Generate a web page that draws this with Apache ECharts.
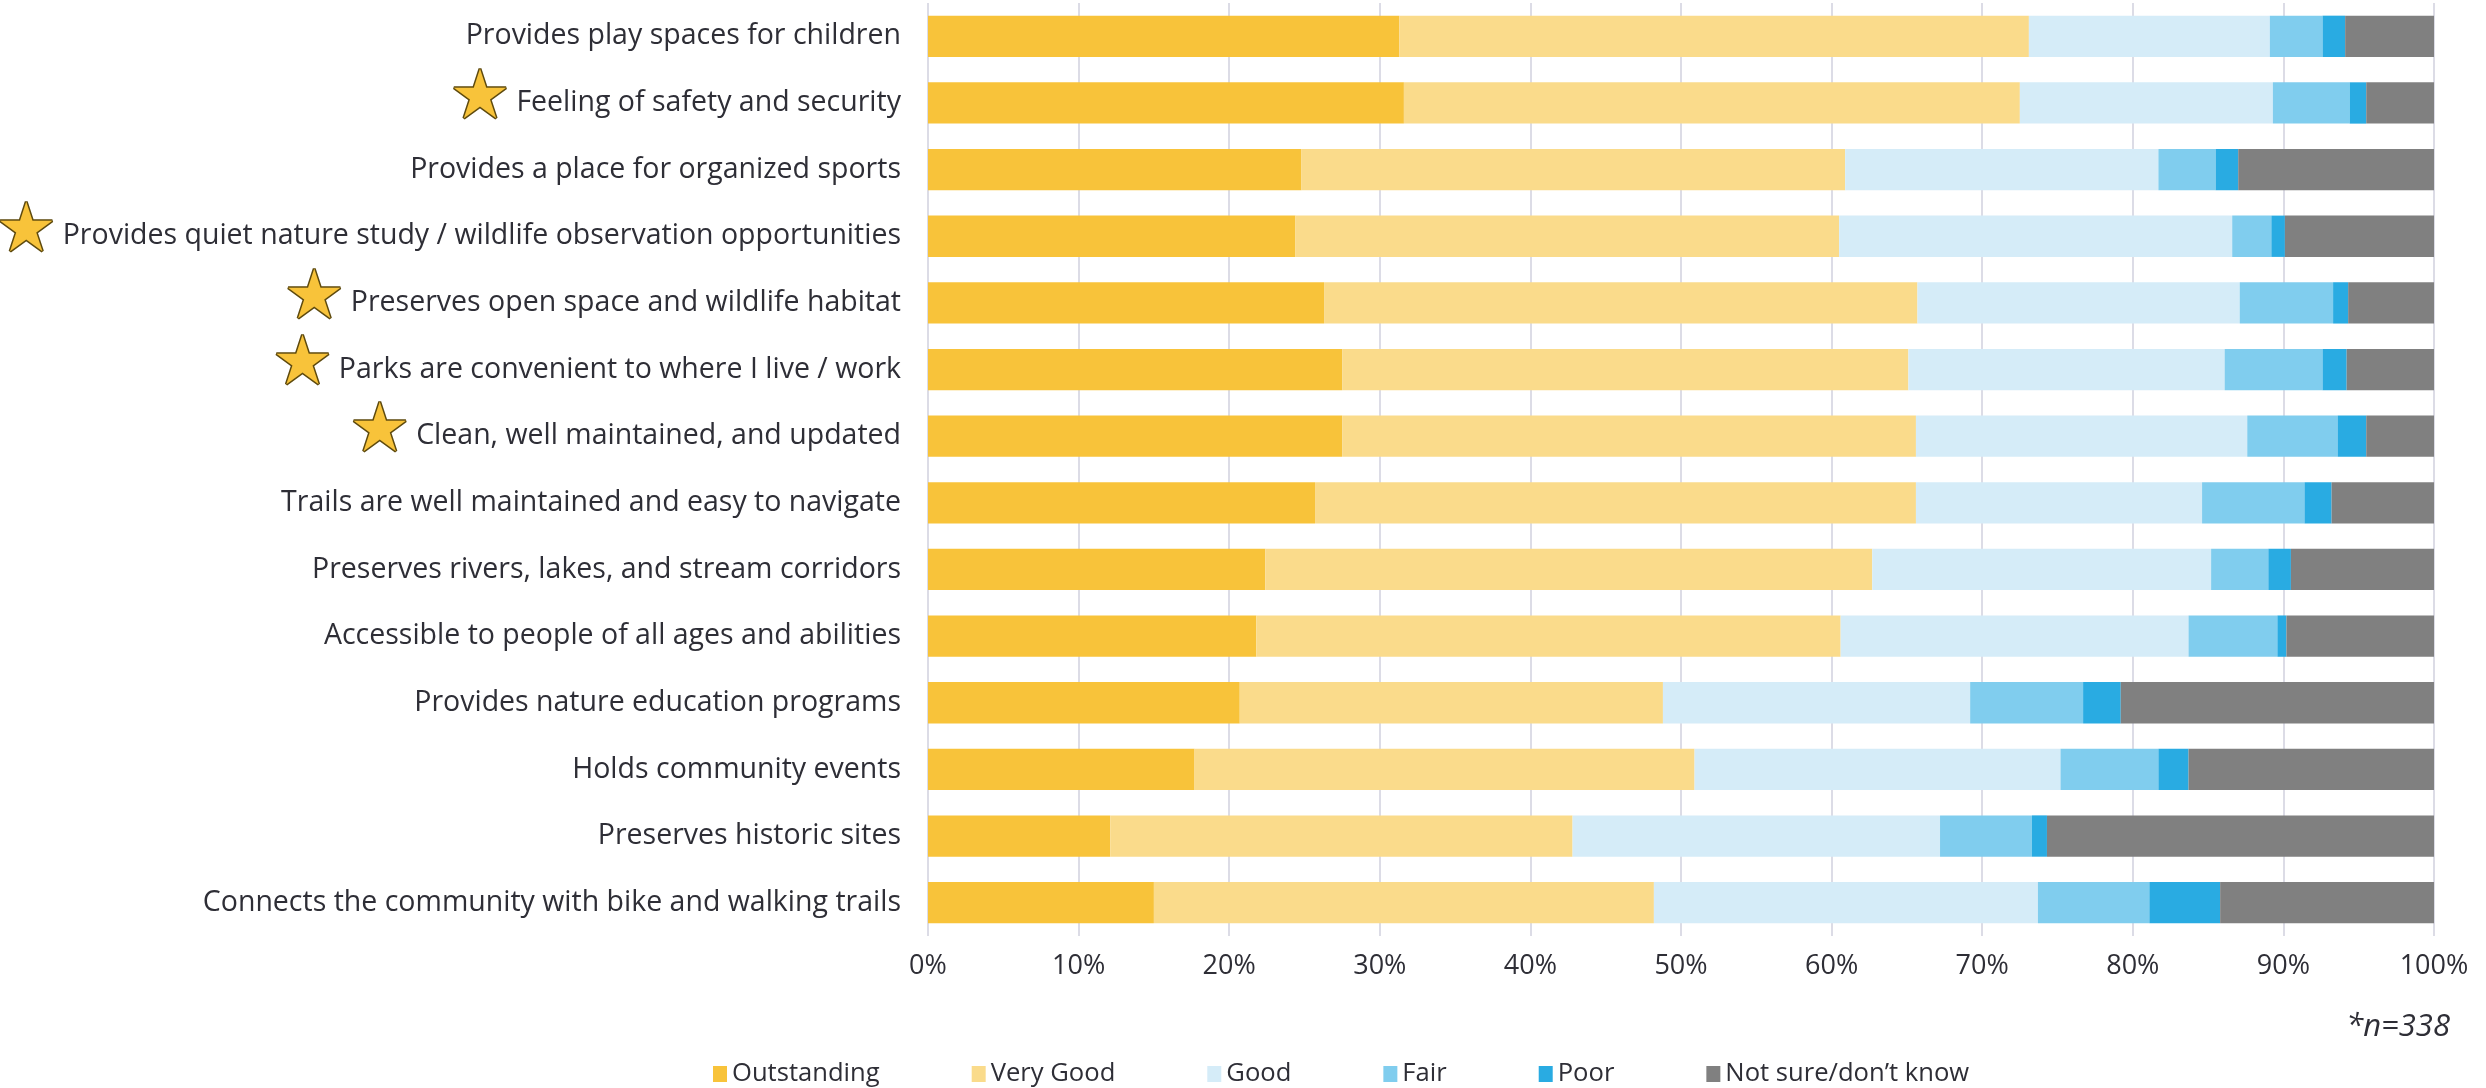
<!DOCTYPE html>
<html>
<head>
<meta charset="utf-8">
<title>Park qualities rating</title>
<script src="https://cdn.jsdelivr.net/npm/echarts@6/dist/echarts.min.js"></script>
<style>
  html, body { margin: 0; padding: 0; background: #ffffff; }
  #chart { width: 2486px; height: 1088px; }
</style>
</head>
<body>
<div id="chart"></div>
<script>
// Park attributes, top to bottom
const categories = [
  'Provides play spaces for children',
  'Feeling of safety and security',
  'Provides a place for organized sports',
  'Provides quiet nature study / wildlife observation opportunities',
  'Preserves open space and wildlife habitat',
  'Parks are convenient to where I live / work',
  'Clean, well maintained, and updated',
  'Trails are well maintained and easy to navigate',
  'Preserves rivers, lakes, and stream corridors',
  'Accessible to people of all ages and abilities',
  'Provides nature education programs',
  'Holds community events',
  'Preserves historic sites',
  'Connects the community with bike and walking trails'
];

// Attributes marked with a star
const starred = [false, true, false, true, true, true, true, false, false, false, false, false, false, false];

// Share of responses (%)
const outstanding = [31.3, 31.6, 24.8, 24.4, 26.3, 27.5, 27.5, 25.7, 22.4, 21.8, 20.7, 17.7, 12.1, 15.0];
const veryGood    = [41.8, 40.9, 36.1, 36.1, 39.4, 37.6, 38.1, 39.9, 40.3, 38.8, 28.1, 33.2, 30.7, 33.2];
const good        = [16.0, 16.8, 20.8, 26.1, 21.4, 21.0, 22.0, 19.0, 22.5, 23.1, 20.4, 24.3, 24.4, 25.5];
const fair        = [3.5, 5.1, 3.8, 2.6, 6.2, 6.5, 6.0, 6.8, 3.8, 5.9, 7.5, 6.5, 6.1, 7.4];
const poor        = [1.5, 1.1, 1.5, 0.9, 1.0, 1.6, 1.9, 1.8, 1.5, 0.6, 2.5, 2.0, 1.0, 4.7];
const notSure     = [5.9, 4.5, 13.0, 9.9, 5.7, 5.8, 4.5, 6.8, 9.5, 9.8, 20.8, 16.3, 25.7, 14.2];

const seriesNames = ['Outstanding', 'Very Good', 'Good', 'Fair', 'Poor', 'Not sure/don\u2019t know'];
const seriesData = [outstanding, veryGood, good, fair, poor, notSure];
const seriesColors = ['#F8C33A', '#FADB8B', '#D5ECF8', '#80CDEE', '#29ABE2', '#808080'];
// Text box width of each legend entry
const legendTextWidths = [152, 123, 62, 43, 55, 245];

const FONT = 'Open Sans';
const TEXT = '#2E2E36';
const GRID = '#DCDCE6';

const chart = echarts.init(document.getElementById('chart'), null, { renderer: 'canvas' });

chart.setOption({
  animation: false,
  backgroundColor: '#ffffff',
  title: {
    text: '*n=338',
    right: 36,
    top: 1012,
    padding: 0,
    textStyle: { fontFamily: FONT, fontStyle: 'italic', fontWeight: 'normal', fontSize: 31, color: TEXT }
  },
  legend: {
    data: seriesNames.map(function (name, i) {
      return { name: name, textStyle: { width: legendTextWidths[i], overflow: 'none' } };
    }),
    left: 713,
    top: 1061,
    padding: 0,
    itemWidth: 14,
    itemHeight: 16,
    itemGap: 92,
    icon: 'rect',
    textStyle: { fontFamily: FONT, fontSize: 25.6, color: TEXT }
  },
  grid: { left: 928, right: 52, top: 3, bottom: 152, containLabel: false, outerBoundsMode: 'none' },
  xAxis: {
    type: 'value',
    min: 0,
    max: 100,
    interval: 10,
    axisLine: { show: false },
    axisTick: { show: false },
    splitLine: { show: true, lineStyle: { color: GRID, width: 2 } },
    axisLabel: {
      formatter: '{value}%',
      margin: 17,
      fontFamily: FONT,
      fontSize: 27,
      color: TEXT
    }
  },
  yAxis: {
    type: 'category',
    data: categories,
    inverse: true,
    axisLine: { show: false },
    axisTick: { show: false },
    axisLabel: {
      margin: 27,
      formatter: function (value, idx) {
        return starred[idx] ? '{star|\u2605}{txt|' + value + '}' : '{txt|' + value + '}';
      },
      rich: {
        txt: { fontFamily: FONT, fontSize: 28.5, color: TEXT },
        star: {
          fontFamily: 'DejaVu Sans',
          fontSize: 68,
          color: '#F8C33A',
          textBorderColor: '#5E4A0E',
          textBorderWidth: 3,
          padding: [0, 6, 6, 0]
        }
      }
    }
  },
  series: seriesNames.map(function (name, i) {
    return {
      name: name,
      type: 'bar',
      stack: 'total',
      barCategoryGap: '38%',
      itemStyle: { color: seriesColors[i] },
      emphasis: { disabled: true },
      data: seriesData[i]
    };
  })
});
</script>
</body>
</html>
